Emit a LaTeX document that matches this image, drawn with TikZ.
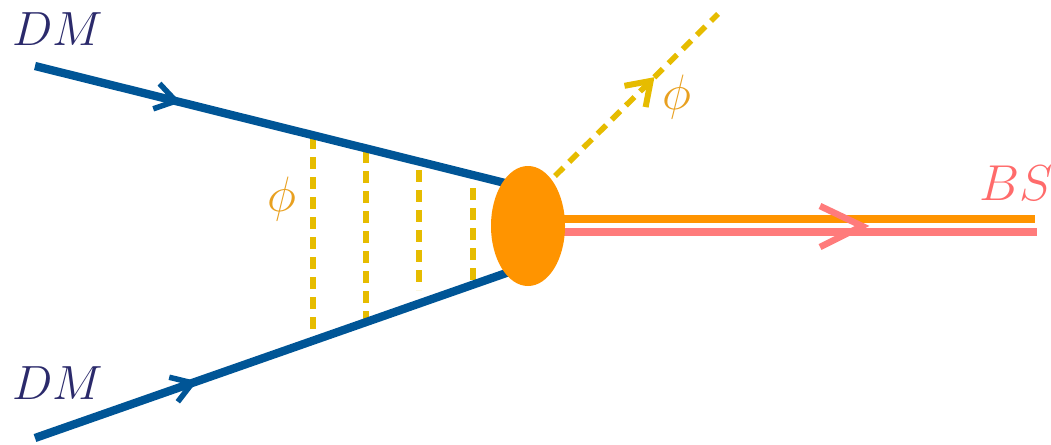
\documentclass[tikz,border=0pt]{standalone}
\usepackage{graphicx}
\usetikzlibrary{shapes.geometric,decorations.markings,arrows.meta}
\definecolor{dmblue}{HTML}{005596}
\definecolor{dmtext}{HTML}{2B2A6B}
\definecolor{blob}{HTML}{FF9400}
\definecolor{phigold}{HTML}{E6BC00}
\definecolor{philabel}{HTML}{E8A020}
\definecolor{bspink}{HTML}{FF7B7B}
\definecolor{bstext}{HTML}{FF6B6B}
\newcommand{\biglbl}[2]{\scalebox{#1}{\Huge$#2$}}
\tikzset{
  fermion/.style={draw=dmblue, line width=8.3pt,
    postaction={decorate}, decoration={markings,
      mark=at position #1 with {\arrow[dmblue, line width=5.5pt]{Straight Barb[length=20pt,width=26pt]}}}},
  scalar/.style={draw=phigold, line width=5.6pt, dash pattern=on 12pt off 8pt},
  lbl/.style={inner sep=0pt},
  blobstyle/.style={ellipse, fill=blob, minimum width=74pt, minimum height=120pt, inner sep=0pt},
}
\begin{document}
\begin{tikzpicture}[x=1pt,y=-1pt]
\useasboundingbox (0,0) rectangle (1051,444);
\clip (0,0) rectangle (1051,444);
% coordinates
\coordinate (a1) at (35,66);
\coordinate (a2) at (35,438);
\coordinate (v) at (528,226);
\coordinate (t1) at (505,183);
\coordinate (t2) at (512,271);
\coordinate (pend) at (718,14);
\coordinate (pstart) at (555,176);
\coordinate (o1) at (540,219);
\coordinate (o2) at (1035,219);
\coordinate (p1) at (540,232);
\coordinate (p2) at (1037,232);
\coordinate (h1) at (820,206);
\coordinate (h2) at (862,226);
\coordinate (h3) at (820,247);
% ladder rungs
\coordinate (r1a) at (313,137); \coordinate (r1b) at (313,339);
\coordinate (r2a) at (366,151); \coordinate (r2b) at (366,329);
\coordinate (r3a) at (419,170); \coordinate (r3b) at (419,290);
\coordinate (r4a) at (473,188); \coordinate (r4b) at (473,281);
\draw[scalar] (r1a) -- (r1b);
\draw[scalar] (r2a) -- (r2b);
\draw[scalar] (r3a) -- (r3b);
\draw[scalar] (r4a) -- (r4b);
% fermion lines
\draw[fermion=0.31] (a1) -- (t1);
\draw[fermion=0.34] (a2) -- (t2);
% outgoing scalar
\draw[scalar, postaction={decorate}, decoration={markings,
  mark=at position 0.61 with {\arrow[phigold, line width=6pt, solid]{Straight Barb[length=22pt,width=30pt]}}}] (pstart) -- (pend);
% bound state double line
\draw[blob, line width=7.5pt] (o1) -- (o2);
\draw[bspink, line width=7.5pt] (p1) -- (p2);
\draw[bspink, line width=6.5pt, line join=miter] (h1) -- (h2) -- (h3);
% blob
\node[blobstyle] (vx) at (v) {};
% labels
\node[lbl, text=dmtext] (dm1) at (58,29) {\biglbl{1.93}{DM}};
\node[lbl, text=dmtext] (dm2) at (58,383) {\biglbl{1.93}{DM}};
\node[lbl, text=philabel] (phi1) at (282,199) {\biglbl{2.0}{\phi}};
\node[lbl, text=philabel] (phi2) at (677,97) {\biglbl{2.0}{\phi}};
\node[lbl, text=bstext, anchor=west] (bs) at (979,183) {\biglbl{2.03}{BS}};
\end{tikzpicture}
\end{document}
